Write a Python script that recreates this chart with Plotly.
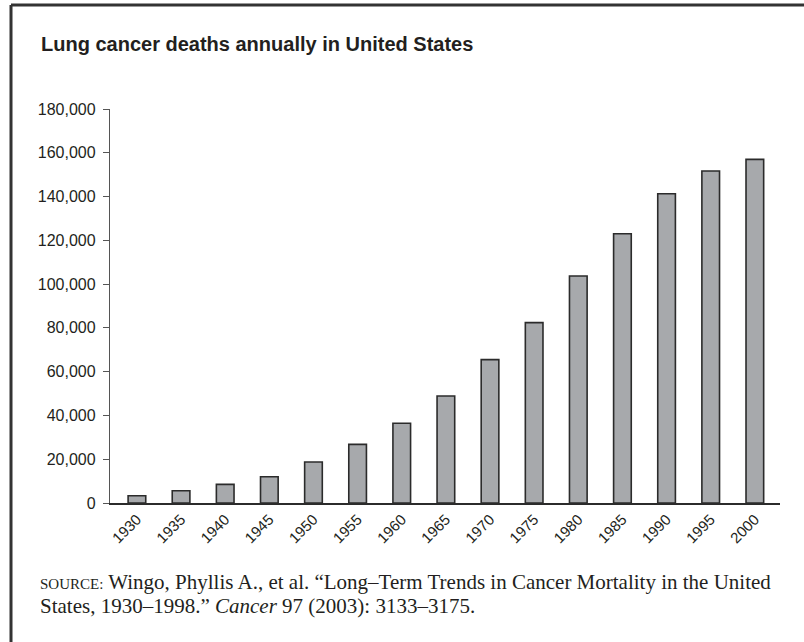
import plotly.graph_objects as go

years = ["1930", "1935", "1940", "1945", "1950", "1955", "1960", "1965",
         "1970", "1975", "1980", "1985", "1990", "1995", "2000"]
deaths = [3300, 5600, 8500, 12000, 18700, 26800, 36400, 48900,
          65500, 82400, 103700, 123000, 141300, 151700, 157000]
y_ticks = [0, 20000, 40000, 60000, 80000, 100000, 120000, 140000, 160000, 180000]
y_tick_labels = ["0", "20,000", "40,000", "60,000", "80,000", "100,000",
                 "120,000", "140,000", "160,000", "180,000"]

W, H = 804, 642
L, R, T, B = 110, 24, 109, 139
pw, ph = W - L - R, H - T - B

def px(x):
    return (x - L) / pw

def py(y):
    return 1 - (y - T) / ph

fig = go.Figure(go.Bar(
    x=years, y=deaths, width=0.40,
    marker=dict(color="#a7a9ac", line=dict(color="#2b2b2b", width=1.6)),
))

fig.update_layout(
    width=W, height=H,
    margin=dict(l=L, r=R, t=T, b=B),
    paper_bgcolor="white", plot_bgcolor="white",
    showlegend=False,
    font=dict(family="Liberation Sans, Arial, sans-serif", color="#231f20"),
    xaxis=dict(
        type="category", range=[-0.61, 14.57],
        showline=True, linecolor="#2b2b2b", linewidth=1.6,
        ticks="", showgrid=False, tickangle=-45,
        tickfont=dict(size=15, color="#231f20"),
    ),
    yaxis=dict(
        range=[0, 180000], tickvals=y_ticks, ticktext=y_tick_labels,
        showline=True, linecolor="#555555", linewidth=1.4,
        ticks="outside", ticklen=6, tickwidth=1.4, tickcolor="#555555",
        showgrid=False, zeroline=False,
        tickfont=dict(size=16, color="#231f20"),
        ticklabelstandoff=4,
    ),
    shapes=[
        dict(type="line", xref="paper", yref="paper",
             x0=px(11), x1=px(W + 5), y0=py(5), y1=py(5),
             line=dict(color="#333333", width=3)),
        dict(type="line", xref="paper", yref="paper",
             x0=px(11), x1=px(11), y0=py(5), y1=py(H + 5),
             line=dict(color="#333333", width=3)),
    ],
    annotations=[
        dict(text="<b>Lung cancer deaths annually in United States</b>",
             xref="paper", yref="paper", x=px(39), y=py(44),
             xanchor="left", yanchor="middle", showarrow=False,
             font=dict(family="Liberation Sans, Arial, sans-serif",
                       size=20, color="#231f20")),
        dict(text=("<span style='font-size:15px'>SOURCE:</span> Wingo, Phyllis A., et al. "
                   "“Long–Term Trends in Cancer Mortality in the United"),
             xref="paper", yref="paper", x=px(38), y=py(582),
             xanchor="left", yanchor="middle", align="left", showarrow=False,
             font=dict(family="Liberation Serif, Times New Roman, serif",
                       size=21, color="#231f20")),
        dict(text="States, 1930–1998.” <i>Cancer</i> 97 (2003): 3133–3175.",
             xref="paper", yref="paper", x=px(38), y=py(606),
             xanchor="left", yanchor="middle", align="left", showarrow=False,
             font=dict(family="Liberation Serif, Times New Roman, serif",
                       size=21, color="#231f20")),
    ],
)

fig.write_html("out.html",
               config={"displayModeBar": False},
               post_script="document.body.style.margin='0';document.body.style.overflow='hidden';")
